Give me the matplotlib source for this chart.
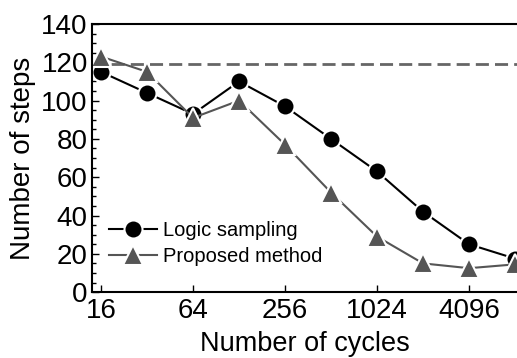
import matplotlib.pyplot as plt
from matplotlib.ticker import FixedLocator, MultipleLocator, NullLocator

plt.rcParams['font.family'] = ['Liberation Sans', 'DejaVu Sans']

# data
cycles = [16, 32, 64, 128, 256, 512, 1024, 2048, 4096, 8192]
logic_sampling = [115, 104, 93, 110, 97, 80, 63, 42, 25, 17.5]
proposed_method = [123, 115, 91, 100, 77, 52, 29, 15, 12.5, 14.5]
baseline = 119
xtick_values = [16, 64, 256, 1024, 4096]

fig = plt.figure(figsize=(5.17, 3.58), dpi=100)
ax = fig.add_axes([0.178, 0.184, 0.822, 0.749])

ax.axhline(baseline, color='#666666', lw=2, dashes=(4.7, 2.2))

ax.plot(cycles, logic_sampling, color='black', lw=1.5, marker='o', markersize=13,
        markerfacecolor='black', markeredgecolor='white', markeredgewidth=1.5,
        label='Logic sampling')
ax.plot(cycles, proposed_method, color='#555555', lw=1.5, marker='^', markersize=14,
        markerfacecolor='#555555', markeredgecolor='white', markeredgewidth=1.5,
        label='Proposed method')

ax.set_xscale('log', base=2)
ax.set_xlim(13.97, 8440)
ax.set_ylim(0, 140)
ax.xaxis.set_major_locator(FixedLocator(xtick_values))
ax.xaxis.set_minor_locator(NullLocator())
ax.set_xticklabels([str(v) for v in xtick_values])
ax.yaxis.set_major_locator(MultipleLocator(20))
ax.yaxis.set_minor_locator(MultipleLocator(5))

ax.tick_params(axis='both', which='both', direction='in', labelsize=20)
ax.tick_params(axis='both', which='major', length=5, width=1)
ax.tick_params(axis='y', which='minor', length=3, width=1)
ax.tick_params(axis='x', pad=4)
ax.tick_params(axis='y', pad=3)

ax.spines['right'].set_visible(False)
for s in ['left', 'bottom', 'top']:
    ax.spines[s].set_linewidth(1.5)

ax.set_xlabel('Number of cycles', fontsize=19.5, labelpad=5)
ax.set_ylabel('Number of steps', fontsize=20, labelpad=4)

ax.legend(loc='lower left', bbox_to_anchor=(0.02, 0.066), frameon=False, fontsize=14.5,
          handlelength=2.4, handletextpad=0.3, labelspacing=0.35, borderaxespad=0)

fig.savefig('out.png', dpi=100)
